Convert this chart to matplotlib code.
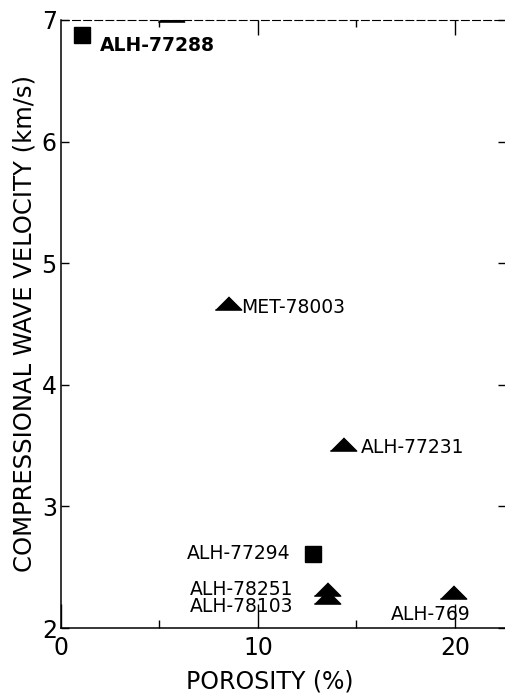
import matplotlib
matplotlib.use('Agg')
import matplotlib.pyplot as plt

# porosity (%) vs compressional wave velocity (km/s)
names = ['ALH-77288', '', 'MET-78003', 'ALH-77231', 'ALH-77294',
         'ALH-78251', 'ALH-78103', 'ALH-769']
porosity = [1.05, 5.6, 8.5, 14.3, 12.8, 13.5, 13.5, 19.9]
velocity = [6.88, 7.04, 4.67, 3.51, 2.61, 2.32, 2.255, 2.30]
kind = ['s', 't', 't', 't', 's', 't', 't', 't']

# label placement (offset in points from the marker, alignment)
label_off = [(13, -8), (0, 0), (9, -3), (13, -2), (-16, 0),
             (-24, 0), (-24, -7), (-16, -16.5)]
label_ha = ['left', 'left', 'left', 'left', 'right', 'right', 'right', 'center']
label_bold = ['bold', 'normal', 'normal', 'normal', 'normal', 'normal',
              'normal', 'normal']

plt.rcParams['font.family'] = ['DejaVu Sans']

W, H = 506, 696
fig = plt.figure(figsize=(W / 100, H / 100), dpi=100)
x0, x1, y0, y1 = 61, 506, 628, 20
ax = fig.add_axes([x0 / W, 1 - y0 / H, (x1 - x0) / W, (y0 - y1) / H])

ax.set_xlim(0, (x1 - x0) / 19.7)
ax.set_ylim(2, 7)

tri = [(-1, -0.5), (1, -0.5), (0, 0.5)]
for px, vy, k in zip(porosity, velocity, kind):
    if k == 's':
        ax.plot(px, vy, marker='s', ms=11, color='black', ls='none', zorder=4)
    else:
        ax.plot(px, vy, marker=tri, ms=19, color='black', ls='none', zorder=4)

for name, px, vy, off, ha, fw in zip(names, porosity, velocity, label_off,
                                     label_ha, label_bold):
    if not name:
        continue
    ax.annotate(name, (px, vy), xytext=off, textcoords='offset points',
                ha=ha, va='center', fontsize=13.5, fontweight=fw)

# axes styling: inward ticks, faint top edge, no right spine
ax.spines['right'].set_visible(False)
ax.spines['top'].set_linestyle((0, (7, 3)))
ax.spines['top'].set_linewidth(0.8)
for s in ('left', 'bottom'):
    ax.spines[s].set_linewidth(1.1)

ax.set_xticks([0, 10, 20])
ax.set_xticks([5, 15], minor=True)
ax.set_yticks([2, 3, 4, 5, 6, 7])
ax.tick_params(axis='x', which='major', direction='in', length=17, width=1,
               labelsize=17, pad=6, top=False)
ax.tick_params(axis='x', which='minor', direction='in', length=6, width=1,
               top=False)
ax.tick_params(axis='y', which='major', direction='in', length=6, width=1,
               labelsize=17, pad=3, right=True)

top = ax.secondary_xaxis('top')
top.set_xticks([10, 20])
top.set_xticks([5, 15], minor=True)
top.spines['top'].set_visible(False)
top.tick_params(axis='x', which='major', direction='in', length=11, width=1,
                labeltop=False)
top.tick_params(axis='x', which='minor', direction='in', length=5, width=1)

ax.set_xlabel('POROSITY (%)', fontsize=17, labelpad=0)
ax.set_ylabel('COMPRESSIONAL WAVE VELOCITY (km/s)', fontsize=17.5, labelpad=4)
ax.xaxis.set_label_coords(0.47, -0.068)

fig.savefig('out.png', dpi=100)
